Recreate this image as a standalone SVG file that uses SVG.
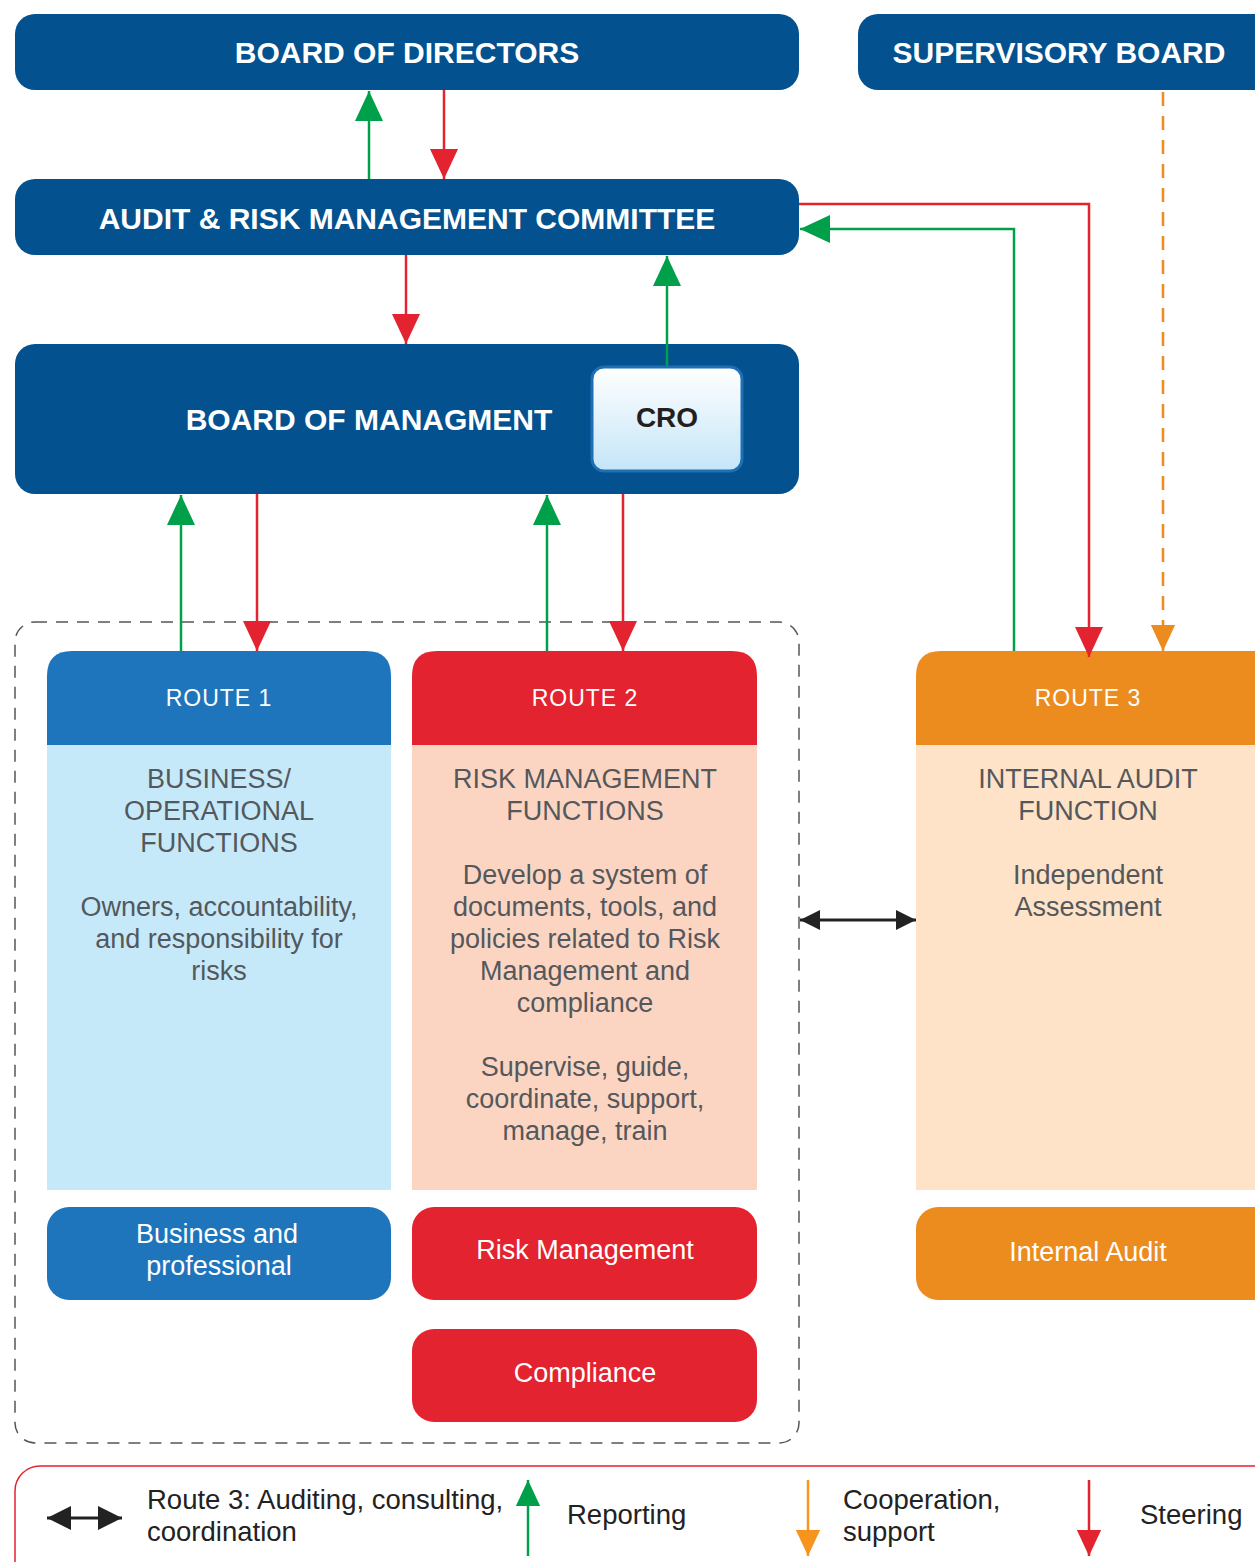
<svg xmlns="http://www.w3.org/2000/svg" width="1255" height="1562" viewBox="0 0 1255 1562">
<defs>
<style>
.hdr{fill:#03518e}
.t{font-family:"Liberation Sans",Arial,sans-serif}
.ttl{font-family:"Liberation Sans",Arial,sans-serif;font-weight:bold;font-size:30px;fill:#fff;text-anchor:middle}
.rt{font-family:"Liberation Sans",Arial,sans-serif;font-size:23px;fill:#fff;text-anchor:middle;letter-spacing:1px}
.bd{font-family:"Liberation Sans",Arial,sans-serif;font-size:27px;fill:#54585c;text-anchor:middle}
.bx{font-family:"Liberation Sans",Arial,sans-serif;font-size:27px;fill:#fff;text-anchor:middle}
.lg{font-family:"Liberation Sans",Arial,sans-serif;font-size:27.5px;fill:#222}
.g{stroke:#00a04a;stroke-width:2.5;fill:none}
.r{stroke:#e3232f;stroke-width:2.5;fill:none}
.o{stroke:#ec8c1f;stroke-width:2.5;fill:none}
.k{stroke:#222;stroke-width:3;fill:none}
</style>
<marker id="ag" viewBox="0 0 30 28" refX="30" refY="14" markerWidth="30" markerHeight="28" markerUnits="userSpaceOnUse" orient="auto"><path d="M0,0 L30,14 L0,28 Z" fill="#00a04a"/></marker>
<marker id="ar" viewBox="0 0 30 28" refX="30" refY="14" markerWidth="30" markerHeight="28" markerUnits="userSpaceOnUse" orient="auto"><path d="M0,0 L30,14 L0,28 Z" fill="#e3232f"/></marker>
<marker id="ao" viewBox="0 0 30 28" refX="30" refY="14" markerWidth="26" markerHeight="26" markerUnits="userSpaceOnUse" orient="auto"><path d="M0,0 L30,14 L0,28 Z" fill="#ec8c1f"/></marker>
<marker id="ak" viewBox="0 0 22 22" refX="22" refY="11" markerWidth="20" markerHeight="22" markerUnits="userSpaceOnUse" orient="auto-start-reverse"><path d="M0,0 L22,11 L0,22 Z" fill="#222"/></marker>
<marker id="akl" viewBox="0 0 22 22" refX="22" refY="11" markerWidth="24" markerHeight="30" markerUnits="userSpaceOnUse" orient="auto-start-reverse"><path d="M0,0 L22,11 L0,22 Z" fill="#222"/></marker>
<marker id="agl" viewBox="0 0 30 28" refX="30" refY="14" markerWidth="26" markerHeight="28" markerUnits="userSpaceOnUse" orient="auto"><path d="M0,0 L30,14 L0,28 Z" fill="#00a04a"/></marker>
<marker id="aol" viewBox="0 0 30 28" refX="30" refY="14" markerWidth="26" markerHeight="28" markerUnits="userSpaceOnUse" orient="auto"><path d="M0,0 L30,14 L0,28 Z" fill="#f7941d"/></marker>
<marker id="arl" viewBox="0 0 30 28" refX="30" refY="14" markerWidth="26" markerHeight="28" markerUnits="userSpaceOnUse" orient="auto"><path d="M0,0 L30,14 L0,28 Z" fill="#e3232f"/></marker>
<linearGradient id="croG" x1="0" y1="0" x2="0" y2="1"><stop offset="0" stop-color="#ffffff"/><stop offset="1" stop-color="#c4e5f8"/></linearGradient>
</defs>
<rect width="1255" height="1562" fill="#fff"/>

<g id="container">
<rect x="15" y="622" width="784" height="821" rx="20" fill="none" stroke="#555" stroke-width="1.5" stroke-dasharray="12 9"/>
</g>

<g id="board-of-directors">
<rect class="hdr" x="15" y="14" width="784" height="76" rx="20"/>
<text class="ttl" x="407" y="63">BOARD OF DIRECTORS</text>
</g>
<g id="supervisory-board">
<rect class="hdr" x="858" y="14" width="430" height="76" rx="20"/>
<text class="ttl" x="1059" y="63">SUPERVISORY BOARD</text>
</g>
<g id="audit-risk-committee">
<rect class="hdr" x="15" y="179" width="784" height="76" rx="20"/>
<text class="ttl" x="407" y="229">AUDIT &amp; RISK MANAGEMENT COMMITTEE</text>
</g>
<g id="board-of-management">
<rect class="hdr" x="15" y="344" width="784" height="150" rx="20"/>
<text class="ttl" x="369" y="430">BOARD OF MANAGMENT</text>
</g>
<g id="cro">
<rect x="592" y="367" width="150" height="104" rx="12" fill="url(#croG)" stroke="#1f6fb5" stroke-width="3"/>
<text class="t" x="667" y="427" font-size="28" font-weight="bold" fill="#231f20" text-anchor="middle">CRO</text>
</g>

<g id="route1">
<path d="M47,745 V676 Q47,651 72,651 H366 Q391,651 391,676 V745 Z" fill="#1f75bc"/>
<rect x="47" y="745" width="344" height="445" fill="#c6e9f9"/>
<text class="rt" x="219" y="706">ROUTE 1</text>
<text class="bd" x="219" y="788">BUSINESS/</text>
<text class="bd" x="219" y="820">OPERATIONAL</text>
<text class="bd" x="219" y="852">FUNCTIONS</text>
<text class="bd" x="219" y="916">Owners, accountability,</text>
<text class="bd" x="219" y="948">and responsibility for</text>
<text class="bd" x="219" y="980">risks</text>
</g>
<g id="route2">
<path d="M412,745 V676 Q412,651 437,651 H732 Q757,651 757,676 V745 Z" fill="#e3232f"/>
<rect x="412" y="745" width="345" height="445" fill="#fcd5c2"/>
<text class="rt" x="585" y="706">ROUTE 2</text>
<text class="bd" x="585" y="788">RISK MANAGEMENT</text>
<text class="bd" x="585" y="820">FUNCTIONS</text>
<text class="bd" x="585" y="884">Develop a system of</text>
<text class="bd" x="585" y="916">documents, tools, and</text>
<text class="bd" x="585" y="948">policies related to Risk</text>
<text class="bd" x="585" y="980">Management and</text>
<text class="bd" x="585" y="1012">compliance</text>
<text class="bd" x="585" y="1076">Supervise, guide,</text>
<text class="bd" x="585" y="1108">coordinate, support,</text>
<text class="bd" x="585" y="1140">manage, train</text>
</g>
<g id="route3">
<path d="M916,745 V676 Q916,651 941,651 H1290 V745 Z" fill="#ec8c1f"/>
<rect x="916" y="745" width="374" height="445" fill="#fee3c8"/>
<text class="rt" x="1088" y="706">ROUTE 3</text>
<text class="bd" x="1088" y="788">INTERNAL AUDIT</text>
<text class="bd" x="1088" y="820">FUNCTION</text>
<text class="bd" x="1088" y="884">Independent</text>
<text class="bd" x="1088" y="916">Assessment</text>
</g>

<g id="business-professional">
<rect x="47" y="1207" width="344" height="93" rx="22" fill="#1f75bc"/>
<text class="bx" x="217" y="1243">Business and</text>
<text class="bx" x="219" y="1275">professional</text>
</g>
<g id="risk-management">
<rect x="412" y="1207" width="345" height="93" rx="22" fill="#e3232f"/>
<text class="bx" x="585" y="1259">Risk Management</text>
</g>
<g id="compliance">
<rect x="412" y="1329" width="345" height="93" rx="22" fill="#e3232f"/>
<text class="bx" x="585" y="1382">Compliance</text>
</g>
<g id="internal-audit">
<rect x="916" y="1207" width="374" height="93" rx="22" fill="#ec8c1f"/>
<text class="bx" x="1088" y="1261">Internal Audit</text>
</g>

<g id="connectors">
<line class="g" x1="369" y1="179" x2="369" y2="91" marker-end="url(#ag)"/>
<line class="r" x1="444" y1="90" x2="444" y2="179" marker-end="url(#ar)"/>
<line class="r" x1="406" y1="255" x2="406" y2="344" marker-end="url(#ar)"/>
<line class="g" x1="667" y1="366" x2="667" y2="256" marker-end="url(#ag)"/>
<line class="g" x1="181" y1="651" x2="181" y2="495" marker-end="url(#ag)"/>
<line class="r" x1="257" y1="494" x2="257" y2="651" marker-end="url(#ar)"/>
<line class="g" x1="547" y1="651" x2="547" y2="495" marker-end="url(#ag)"/>
<line class="r" x1="623" y1="494" x2="623" y2="651" marker-end="url(#ar)"/>
<polyline class="r" points="799,204 1089,204 1089,657" marker-end="url(#ar)"/>
<polyline class="g" points="1014,651 1014,229 800,229" marker-end="url(#ag)"/>
<line class="o" x1="1163" y1="92" x2="1163" y2="651" stroke-dasharray="14 10" marker-end="url(#ao)"/>
<line class="k" x1="800" y1="920" x2="916" y2="920" marker-start="url(#ak)" marker-end="url(#ak)"/>
</g>

<g id="legend">
<rect x="15" y="1466" width="1290" height="140" rx="25" fill="none" stroke="#e3232f" stroke-width="1.5"/>
<line class="k" x1="47" y1="1518" x2="122" y2="1518" stroke-width="5" marker-start="url(#akl)" marker-end="url(#akl)"/>
<text class="lg" x="147" y="1509">Route 3: Auditing, consulting,</text>
<text class="lg" x="147" y="1541">coordination</text>
<line class="g" x1="528" y1="1556" x2="528" y2="1480" marker-end="url(#agl)"/>
<text class="lg" x="567" y="1524">Reporting</text>
<line x1="808" y1="1480" x2="808" y2="1556" stroke="#f7941d" stroke-width="2.5" marker-end="url(#aol)"/>
<text class="lg" x="843" y="1509">Cooperation,</text>
<text class="lg" x="843" y="1541">support</text>
<line class="r" x1="1089" y1="1480" x2="1089" y2="1556" marker-end="url(#arl)"/>
<text class="lg" x="1140" y="1524">Steering</text>
</g>
</svg>
